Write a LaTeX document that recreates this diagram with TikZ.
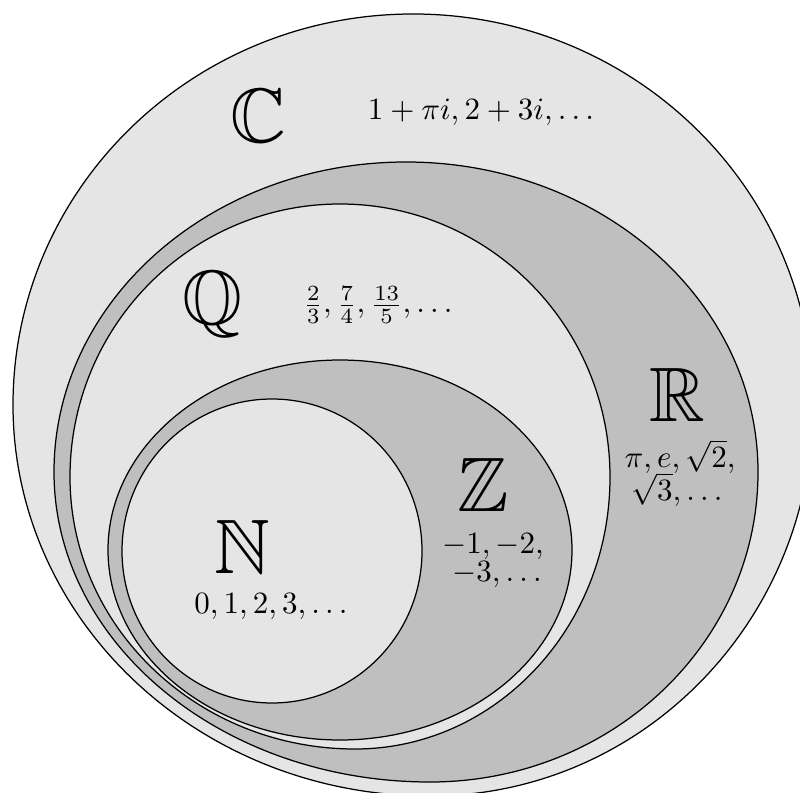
\documentclass[tikz,border=0pt]{standalone}
\usepackage{amsmath,amssymb}
\usepackage{xcolor}
\usepackage{tikz}

\begin{document}
\begin{tikzpicture}[x=0.3225pt, y=-0.3225pt,
  setlight/.style={draw=black, fill=gray!20, line width=0.4pt},
  setdark/.style={draw=black, fill=gray!50, line width=0.4pt},
  setsym/.style={anchor=base, inner sep=0pt, font=\Huge},
  setnum/.style={anchor=base, inner sep=0pt, font=\normalsize}]
  % 1. Khung anh
  \useasboundingbox (0,0) rectangle (800,793);
  \clip (0,0) rectangle (800,793);

  % 2. Cac tap so long nhau (nua duoi hoi lech sang phai)
  \filldraw[setlight] (13,405) arc[start angle=180, end angle=360, x radius=400, y radius=391]
    arc[start angle=0, end angle=90, x radius=383, y radius=391]
    arc[start angle=90, end angle=180, x radius=417, y radius=391] -- cycle;
  \filldraw[setdark] (54,472) arc[start angle=180, end angle=360, x radius=352, y radius=310]
    arc[start angle=0, end angle=90, x radius=328, y radius=310]
    arc[start angle=90, end angle=180, x radius=376, y radius=310] -- cycle;
  \filldraw[setlight] (70,477) arc[start angle=180, end angle=360, x radius=270, y radius=273]
    arc[start angle=0, end angle=90, x radius=255, y radius=272]
    arc[start angle=90, end angle=180, x radius=285, y radius=272] -- cycle;
  \filldraw[setdark] (340,550) ellipse [x radius=232, y radius=190];
  \filldraw[setlight] (272,551) ellipse [x radius=150, y radius=152];

  % 3. Ky hieu tap hop
  \node[setsym] (symC) at (258,143) {$\mathbb{C}$};
  \node[setsym] (symQ) at (212,325) {$\mathbb{Q}$};
  \node[setsym] (symR) at (677,422) {$\mathbb{R}$};
  \node[setsym] (symZ) at (483,512) {$\mathbb{Z}$};
  \node[setsym] (symN) at (242,573) {$\mathbb{N}$};

  % 4. Vi du phan tu
  \node[setnum] (numC) at (481,120) {$1+\pi i, 2+3i, \ldots$};
  \node[setnum] (numQ) at (378,313) {$\frac{2}{3}, \frac{7}{4}, \frac{13}{5}, \ldots$};
  \node[setnum] (numRa) at (680,468) {$\pi, e, \sqrt{2},$};
  \node[setnum] (numRb) at (677,501) {$\sqrt{3}, \ldots$};
  \node[setnum] (numZa) at (493,553) {$-1, -2,$};
  \node[setnum] (numZb) at (497,581) {$-3, \ldots$};
  \node[setnum] (numN) at (271,613) {$0, 1, 2, 3, \ldots$};
\end{tikzpicture}
\end{document}
